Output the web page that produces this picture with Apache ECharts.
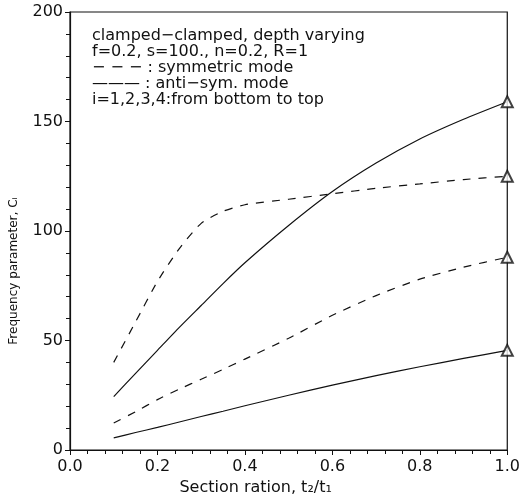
<!DOCTYPE html>
<html>
<head>
<meta charset="utf-8">
<script src="https://cdn.jsdelivr.net/npm/echarts@6/dist/echarts.min.js"></script>
<style>html,body{margin:0;padding:0;background:#fff}#c{width:523px;height:501px}</style>
</head>
<body>
<div id="c"></div>
<script>
// Section ratio t2/t1 (x)
var xs = [0.1, 0.15, 0.2, 0.25, 0.3, 0.35, 0.4, 0.5, 0.6, 0.7, 0.8, 0.9, 1.0];
// i=1 anti-symmetric mode (solid, bottom)
var anti1 = [5.5, 8, 10.3, 12.8, 15.3, 17.7, 20.2, 25, 29.6, 34, 38, 41.8, 45.5];
// i=2 symmetric mode (dashed)
var sym2 = [12.3, 17.5, 23, 27.8, 32.3, 36.8, 41.5, 51, 61.5, 70.5, 78, 83.5, 88];
// i=3 anti-symmetric mode (solid, upper)
var anti3 = [24.4, 35, 45.5, 56, 66, 76, 85.5, 102.5, 118, 131, 142, 151, 159];
// i=4 symmetric mode (dashed, top)
var sym4 = [40, 58.5, 77, 92, 103.5, 109, 112, 114.5, 117, 119.5, 121.5, 123.5, 125];

var xTicks = [0.0, 0.2, 0.4, 0.6, 0.8, 1.0];
var yTicks = [0, 50, 100, 150, 200];

var noteLines = [
  'clamped\u2212clamped, depth varying',
  'f=0.2, s=100., n=0.2, R=1',
  '\u2212 \u2212 \u2212 : symmetric mode',
  '\u2014\u2014\u2014 : anti\u2212sym. mode',
  'i=1,2,3,4:from bottom to top'
];

function pairs(ys) { return xs.map(function (x, i) { return [x, ys[i]]; }); }

var font = 'DejaVu Sans';
var ink = '#111';

var chart = echarts.init(document.getElementById('c'), null, {renderer: 'canvas'});

function lineSeries(ys, dashed) {
  return {
    type: 'line',
    data: pairs(ys),
    smooth: 0.2,
    showSymbol: false,
    symbol: 'none',
    lineStyle: {color: ink, width: 1.2, type: dashed ? [8, 8] : 'solid'},
    silent: true,
    z: 3
  };
}

var lastIdx = xs.length - 1;
var endPoints = [anti1, sym2, anti3, sym4].map(function (s) { return [xs[lastIdx], s[lastIdx]]; });

chart.setOption({
  animation: false,
  backgroundColor: '#fff',
  title: {
    text: noteLines.join('\n'),
    left: 92,
    top: 28,
    padding: 0,
    textStyle: {fontFamily: font, fontSize: 16, fontWeight: 'normal', lineHeight: 16, color: ink}
  },
  grid: {left: 69, right: 10, top: 12, bottom: 49, show: true, borderColor: ink, borderWidth: 1.2, backgroundColor: 'transparent'},
  xAxis: {
    type: 'value',
    min: 0, max: 1, interval: 0.2,
    name: 'Section ration, t\u2082/t\u2081',
    nameLocation: 'middle',
    nameGap: 30,
    nameTextStyle: {fontFamily: font, fontSize: 16, color: ink, padding: [0, 66, 0, 0]},
    axisLine: {show: true, lineStyle: {color: ink, width: 1.2}},
    axisTick: {show: true, inside: false, length: 5, lineStyle: {color: ink}},
    minorTick: {show: true, splitNumber: 5, length: 4, lineStyle: {color: ink}},
    axisLabel: {
      margin: 9, fontFamily: font, fontSize: 16, color: ink,
      formatter: function (v) {
        var t = xTicks.find(function (k) { return Math.abs(k - v) < 1e-9; });
        return t === undefined ? '' : t.toFixed(1);
      }
    },
    splitLine: {show: false}
  },
  yAxis: {
    type: 'value',
    min: 0, max: 200, interval: 50,
    name: 'Frequency parameter, C\u1D62',
    nameLocation: 'middle',
    nameGap: 50,
    nameTextStyle: {fontFamily: font, fontSize: 12, color: ink, padding: [0, 80, 0, 0]},
    axisLine: {show: true, lineStyle: {color: ink, width: 1.2}},
    axisTick: {show: true, inside: false, length: 5, lineStyle: {color: ink}},
    minorTick: {show: true, splitNumber: 5, length: 4, lineStyle: {color: ink}},
    axisLabel: {
      margin: 7, fontFamily: font, fontSize: 16, color: ink,
      formatter: function (v) { return yTicks.indexOf(v) >= 0 ? String(v) : ''; }
    },
    splitLine: {show: false}
  },
  series: [
    lineSeries(anti1, false),
    lineSeries(sym2, true),
    lineSeries(anti3, false),
    lineSeries(sym4, true),
    {
      type: 'scatter',
      data: endPoints,
      symbol: 'emptyTriangle',
      symbolSize: 11,
      itemStyle: {color: ink, borderColor: ink, borderWidth: 1.2},
      silent: true,
      z: 4
    }
  ]
});
</script>
</body>
</html>
